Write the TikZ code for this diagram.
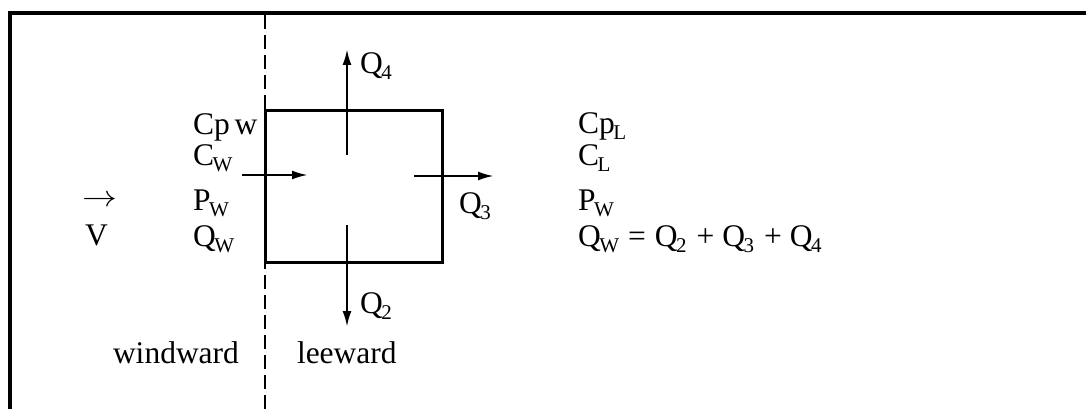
\documentclass[tikz,border=0pt]{standalone}
\usepackage{fontspec}
\setmainfont{Liberation Serif}
\usetikzlibrary{arrows.meta}
\newcommand{\lsub}[1]{\kern-1.5pt\raisebox{-6pt}{\fontsize{21}{21}\selectfont #1}}
\begin{document}
\begin{tikzpicture}[x=1pt,y=-1pt,
  every node/.style={inner sep=0pt,outer sep=0pt,font=\fontsize{31.5}{31.5}\selectfont},
  lbl/.style={anchor=base west},
  flow/.style={line width=2.4pt,-{Latex[length=16pt,width=9pt]}},
  wall/.style={line width=3pt},
  divider/.style={line width=2.5pt,dash pattern=on 14pt off 6pt}]
\useasboundingbox (0,0) rectangle (1086,409);
% outer frame
\draw[line width=3.5pt] (10,415) -- (10,13) -- (1095,13);
% divider
\coordinate (dtop) at (265,15);
\coordinate (dbot) at (265,409);
\draw[divider] (dtop) -- (dbot);
% room
\node[draw,wall,minimum width=177pt,minimum height=151pt,anchor=north west] (room) at (265,111) {};
% flows
\coordinate (inS) at (242,175);
\coordinate (inE) at (308,175);
\draw[flow] (inS) -- (inE);
\coordinate (q3S) at (414,176);
\coordinate (q3E) at (494,176);
\draw[flow] (q3S) -- (q3E);
\coordinate (q4S) at (347,155);
\coordinate (q4E) at (347,49);
\draw[flow] (q4S) -- (q4E);
\coordinate (q2S) at (347,225);
\coordinate (q2E) at (347,327);
\draw[flow] (q2S) -- (q2E);
% labels
\node[lbl] (Q4) at (360,74) {Q\lsub{4}};
\node[lbl] (Q2) at (360,313) {Q\lsub{2}};
\node[lbl] (Q3) at (459,213) {Q\lsub{3}};
\node (Varr) at (100,201) {\scalebox{1.4}[1.2]{$\rightarrow$}};
\node[lbl] (V) at (85,245) {V};
\node[lbl] (cpw) at (193,135) {Cp\hspace{5pt}w};
\node[lbl] (cw) at (193,165) {C\lsub{W}};
\node[lbl] (pw) at (193,210) {P\lsub{W}};
\node[lbl] (qw) at (193,246) {Q\lsub{W}};
\node[lbl] (cpl) at (578,133) {Cp\lsub{L}};
\node[lbl] (cl) at (578,165) {C\lsub{L}};
\node[lbl] (pw2) at (578,210) {P\lsub{W}};
\node[lbl] (qeq) at (578,246) {Q\lsub{W}\hspace{9pt}=\hspace{9pt}Q\lsub{2}\hspace{10pt}+\hspace{8pt}Q\lsub{3}\hspace{10pt}+\hspace{8pt}Q\lsub{4}};
\node[lbl] (wind) at (113,363) {windward};
\node[lbl] (lee) at (297,363) {leeward};
\end{tikzpicture}
\end{document}
